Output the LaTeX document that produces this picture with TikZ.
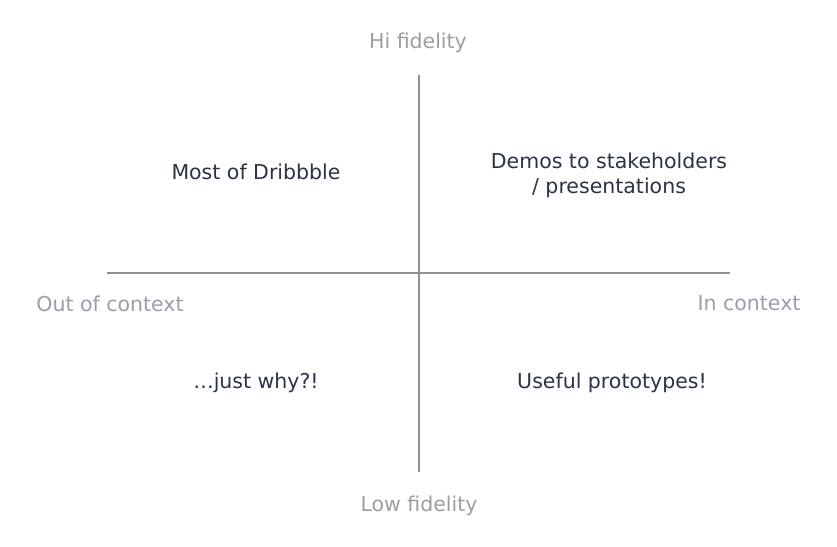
\documentclass[tikz,border=0pt]{standalone}
\usepackage{fontspec}
\setmainfont{DejaVu Sans}
\definecolor{dark}{HTML}{2B3445}
\definecolor{soft}{HTML}{9A9EA6}
\definecolor{axis}{HTML}{8E9095}
\begin{document}
\begin{tikzpicture}[x=1pt,y=-1pt,
  quad/.style={text=dark,font=\fontsize{20.5}{24.5}\selectfont,anchor=base,inner sep=0pt,align=center},
  axlabel/.style={text=soft,font=\fontsize{20.5}{24.5}\selectfont,anchor=base,inner sep=0pt},
  axisline/.style={draw=axis,line width=1.3pt}]
\useasboundingbox[fill=white] (0,0) rectangle (837,546);
\coordinate (top) at (419,75);
\coordinate (bot) at (419,472);
\coordinate (left) at (107,273);
\coordinate (right) at (730,273);
\draw[axisline] (top) -- (bot);
\draw[axisline] (left) -- (right);
\node[axlabel] (hi) at (418,48) {Hi fidelity};
\node[axlabel] (lo) at (419,511) {Low fidelity};
\node[axlabel] (out) at (110,311) {Out of context};
\node[axlabel] (in) at (749,310) {In context};
\node[quad] (tl) at (256,179) {Most of Dribbble};
\node[quad] (tr) at (609,193) {Demos to stakeholders\\/ presentations};
\node[quad] (bl) at (256,388) {\ldots just why?!};
\node[quad] (br) at (612,388) {Useful prototypes!};
\end{tikzpicture}
\end{document}
